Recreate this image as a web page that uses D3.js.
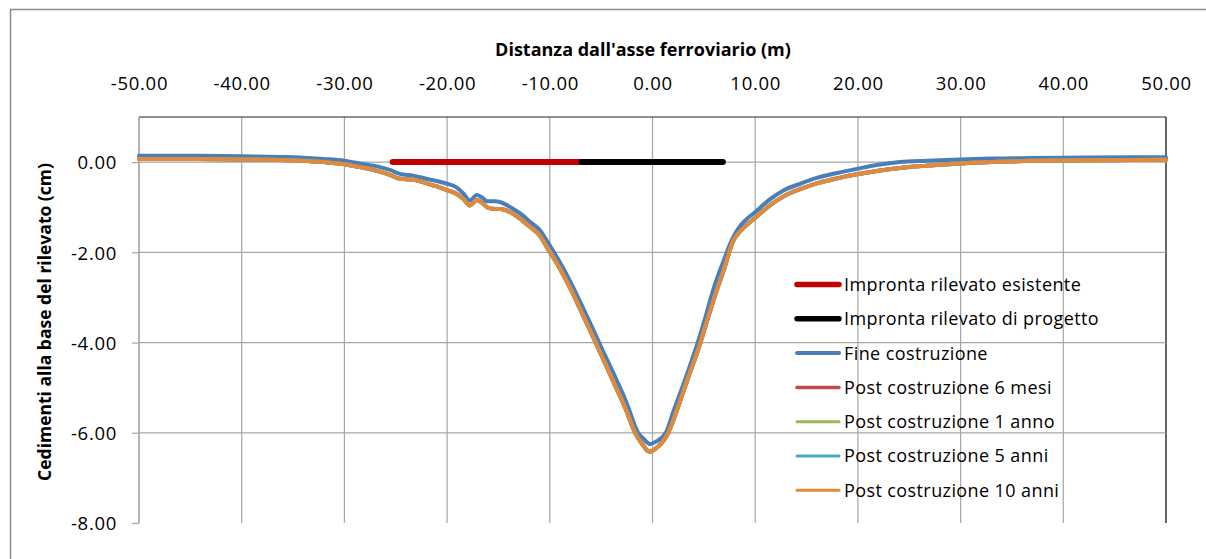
<!DOCTYPE html>
<html>
<head>
<meta charset="utf-8">
<script src="https://cdn.jsdelivr.net/npm/d3@7"></script>
<style>
  html, body { margin: 0; padding: 0; background: #fff; }
  svg { display: block; }
  text { font-family: "Open Sans", Lato, sans-serif; fill: #000; }
</style>
</head>
<body>
<svg id="chart" width="1206" height="559"></svg>
<script>
// ---- data ----
const xTicks = [-50, -40, -30, -20, -10, 0, 10, 20, 30, 40, 50];
const yTicks = [0, -2, -4, -6, -8];

// footprints (x extent at y = 0)
const footprintExistingX = [-25.3, -6.9];
const footprintProjectX = [-6.9, 6.85];
const footprintY = [0, 0];

// Fine costruzione
const endConstrX = [-50, -45, -40, -35, -32, -30, -28.5, -26.9, -25.5, -24.6, -23.3, -22, -21, -20, -19.1, -18.4, -17.8, -17.1, -16.5, -16.1, -15.3, -14.8, -13.55, -12.7, -11.9, -11, -10.3, -9.3, -8, -7, -6, -5, -3.5, -2.5, -1.4, -0.8, -0.24, 0.3, 1.3, 2.0, 3.16, 4.4, 5.2, 5.9, 6.9, 7.87, 8.4, 9.0, 9.98, 11.3, 12.74, 14.36, 16, 18, 19.9, 22, 24.1, 26.7, 29.9, 33, 37, 42, 50];
const endConstrY = [0.14, 0.14, 0.13, 0.11, 0.07, 0.03, -0.03, -0.09, -0.18, -0.26, -0.30, -0.37, -0.42, -0.48, -0.56, -0.70, -0.85, -0.73, -0.80, -0.87, -0.87, -0.89, -1.04, -1.17, -1.33, -1.50, -1.74, -2.11, -2.65, -3.12, -3.60, -4.10, -4.83, -5.35, -6.00, -6.15, -6.25, -6.20, -6.00, -5.55, -4.83, -4.00, -3.40, -2.84, -2.20, -1.66, -1.46, -1.30, -1.11, -0.85, -0.63, -0.48, -0.35, -0.24, -0.15, -0.06, 0.00, 0.03, 0.06, 0.08, 0.09, 0.10, 0.11];

// Post costruzione 10 anni
const post10yX = [-50, -45, -40, -34.3, -32, -30.1, -28.5, -26.9, -25.5, -24.6, -23.3, -22, -21, -20, -19.1, -18.4, -17.8, -17.1, -16.5, -16.1, -15.3, -14.8, -13.55, -12.7, -11.9, -11, -10.3, -9.3, -8, -7, -6, -5, -3.6, -2.6, -1.7, -1.0, -0.3, 0.3, 1.54, 2.3, 3.39, 4.6, 5.4, 6.1, 7.0, 7.87, 8.4, 9.0, 9.98, 11.3, 12.74, 14.36, 16, 18, 19.9, 22, 24.1, 26.7, 29.9, 33, 37, 42, 50];
const post10yY = [0.07, 0.07, 0.06, 0.03, 0.0, -0.04, -0.11, -0.19, -0.29, -0.37, -0.39, -0.47, -0.54, -0.62, -0.70, -0.82, -0.96, -0.84, -0.92, -1.00, -1.04, -1.04, -1.15, -1.29, -1.44, -1.62, -1.88, -2.25, -2.80, -3.28, -3.77, -4.27, -4.97, -5.48, -6.00, -6.25, -6.42, -6.35, -6.00, -5.55, -4.83, -4.05, -3.45, -2.95, -2.35, -1.74, -1.57, -1.43, -1.24, -0.98, -0.76, -0.60, -0.47, -0.36, -0.27, -0.19, -0.13, -0.08, -0.03, 0.00, 0.03, 0.04, 0.05];

// 6 mesi, 1 anno, 5 anni: hidden under the 10-anni curve in the picture
const post6mY = post10yY;
const post1yY = post10yY;
const post5yY = post10yY;

const seriesNames = ["Impronta rilevato esistente", "Impronta rilevato di progetto", "Fine costruzione",
  "Post costruzione 6 mesi", "Post costruzione 1 anno", "Post costruzione 5 anni", "Post costruzione 10 anni"];
const seriesColors = ["#C00000", "#000000", "#4A7EBB", "#BE4B48", "#98B954", "#46AAC5", "#E2893B"];

// ---- layout ----
const svg = d3.select("#chart");
const L = 139, R = 1166, T = 117, B = 523;
const x = d3.scaleLinear().domain([-50, 50]).range([L, R]);
const y = d3.scaleLinear().domain([-8, 1]).range([B, T]);
const fmt = d => d.toFixed(2);

// outer frame
svg.append("rect").attr("x", 10.5).attr("y", 9.5).attr("width", 1210).attr("height", 570)
  .attr("fill", "none").attr("stroke", "#8c8c8c").attr("stroke-width", 1.5);

const grid = "#a6a6a6";
// vertical gridlines
svg.append("g").selectAll("line").data(xTicks).join("line")
  .attr("x1", d => x(d)).attr("x2", d => x(d)).attr("y1", T).attr("y2", B)
  .attr("stroke", d => d === 50 ? "#333" : grid).attr("stroke-width", d => d === 50 ? 1.5 : 1.2);
// horizontal gridlines (not at -8)
svg.append("g").selectAll("line").data(yTicks.filter(d => d !== -8)).join("line")
  .attr("x1", L).attr("x2", R).attr("y1", d => y(d)).attr("y2", d => y(d))
  .attr("stroke", grid).attr("stroke-width", 1.2);
// top border
svg.append("line").attr("x1", L).attr("x2", R).attr("y1", T).attr("y2", T)
  .attr("stroke", "#222").attr("stroke-width", 1.2);

// y axis (left)
const yAxis = d3.axisLeft(y).tickValues(yTicks).tickFormat(fmt).tickSize(7).tickPadding(15);
const ya = svg.append("g").attr("transform", `translate(${L},0)`).call(yAxis);
ya.select(".domain").attr("stroke", grid).attr("stroke-width", 1.2).attr("d", `M-0,${T}V${B}`);
ya.selectAll(".tick line").attr("stroke", grid).attr("stroke-width", 1.2);
ya.selectAll(".tick text").attr("font-size", 18.5).attr("font-family", "Open Sans").attr("fill", "#111")
  .attr("letter-spacing", 0.7).attr("dy", "0.36em");

// x axis (top) labels
const xAxis = d3.axisTop(x).tickValues(xTicks).tickFormat(fmt).tickSize(0).tickPadding(0);
const xa = svg.append("g").attr("transform", `translate(0,90)`).call(xAxis);
xa.select(".domain").remove();
xa.selectAll(".tick text").attr("font-size", 18.5).attr("font-family", "Open Sans").attr("fill", "#111")
  .attr("letter-spacing", 0.7).attr("dy", 0);

// titles
svg.append("text").attr("x", 643).attr("y", 56).attr("text-anchor", "middle")
  .attr("font-weight", "bold").attr("font-size", 18).text("Distanza dall'asse ferroviario (m)");
svg.append("text").attr("transform", "translate(51,322) rotate(-90)").attr("text-anchor", "middle")
  .attr("font-weight", "bold").attr("font-size", 17.5).text("Cedimenti alla base del rilevato (cm)");

// footprints
const seg = d3.line().x(d => x(d[0])).y(d => y(d[1]));
[[footprintExistingX, seriesColors[0]], [footprintProjectX, seriesColors[1]]].forEach(([xs, c]) => {
  svg.append("path").attr("d", seg(xs.map((v, i) => [v, footprintY[i]])))
    .attr("stroke", c).attr("stroke-width", 6).attr("stroke-linecap", "round").attr("fill", "none");
});

// settlement curves
const curve = d3.line().x(d => x(d[0])).y(d => y(d[1])).curve(d3.curveMonotoneX);
const curves = [
  [endConstrX, endConstrY, seriesColors[2]],
  [post10yX, post6mY, seriesColors[3]],
  [post10yX, post1yY, seriesColors[4]],
  [post10yX, post5yY, seriesColors[5]],
  [post10yX, post10yY, seriesColors[6]],
];
curves.forEach(([xs, ys, c]) => {
  svg.append("path").attr("d", curve(xs.map((v, i) => [v, ys[i]])))
    .attr("stroke", c).attr("stroke-width", 4).attr("fill", "none")
    .attr("stroke-linejoin", "round").attr("stroke-linecap", "round");
});

// legend
const legY0 = 284.5, legStep = 34.3;
const legWidths = [5.5, 5.5, 4, 3.5, 3, 3, 3];
const leg = svg.append("g");
seriesNames.forEach((n, i) => {
  const yy = legY0 + i * legStep;
  leg.append("line").attr("x1", 797).attr("x2", 839).attr("y1", yy).attr("y2", yy)
    .attr("stroke", seriesColors[i]).attr("stroke-width", legWidths[i]).attr("stroke-linecap", "round");
  leg.append("text").attr("x", 844).attr("y", yy).attr("dy", "0.36em")
    .attr("font-size", 18).attr("letter-spacing", 0.4).attr("fill", "#111").text(n);
});
</script>
</body>
</html>
